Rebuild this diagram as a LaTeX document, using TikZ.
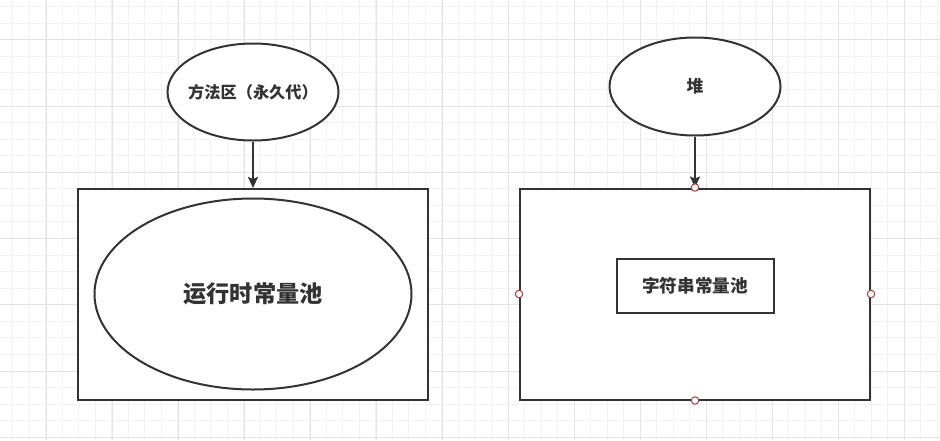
\documentclass[tikz,border=0pt]{standalone}
\usepackage{fontspec}
\newfontfamily\cjk{Noto Sans CJK SC}
\usetikzlibrary{shapes.geometric,arrows.meta}
\definecolor{ink}{HTML}{333333}
\definecolor{gridminor}{HTML}{F2F2F2}
\definecolor{gridmajor}{HTML}{E4E4E4}
\definecolor{pt}{HTML}{A8403F}
\tikzset{
  shapeline/.style={draw=ink, line width=2pt, fill=white, text=ink, font=\cjk\bfseries},
  ell/.style={shapeline, ellipse, inner sep=0pt},
  box/.style={shapeline, rectangle, inner sep=0pt},
  arr/.style={draw=ink, line width=2pt, -{Stealth[length=11pt,width=10pt,inset=2pt]}},
  cpt/.style={circle, draw=pt, line width=1pt, fill=white, minimum size=7.5pt, inner sep=0pt},
  lbl/.style={text=ink, inner sep=0pt},
}
\begin{document}
\begin{tikzpicture}[x=1pt,y=-1pt]
\useasboundingbox (0,0) rectangle (940,440);
\fill[white] (0,0) rectangle (940,440);
% grid
\foreach \i in {0,...,56} {
  \pgfmathsetmacro\gx{12.7+16.51*\i}
  \draw[gridminor, line width=1pt] (\gx,0) -- (\gx,440);
}
\foreach \i in {0,...,26} {
  \pgfmathsetmacro\gy{6.7+16.56*\i}
  \draw[gridminor, line width=1pt] (0,\gy) -- (940,\gy);
}
\foreach \i in {0,...,14} {
  \pgfmathsetmacro\gx{46+66.04*\i-66.04}
  \draw[gridmajor, line width=1pt] (\gx,0) -- (\gx,440);
}
\foreach \i in {0,...,7} {
  \pgfmathsetmacro\gy{39.8+66.24*\i-66.24}
  \draw[gridmajor, line width=1pt] (0,\gy) -- (940,\gy);
}
% left part
\node[ell, minimum width=171pt, minimum height=97pt,
  label={[lbl, font=\cjk\bfseries\fontsize{16.2}{20}\selectfont]center:方法区（永久代）}] (mth) at (253,92) {};
\node[box, minimum width=350pt, minimum height=211pt] (r1) at (253,294.5) {};
\node[ell, minimum width=317pt, minimum height=191pt,
  label={[lbl, font=\cjk\bfseries\fontsize{23.2}{28}\selectfont]center:运行时常量池}] (rcp) at (253,294) {};
\draw[arr] (mth.south) -- (r1.north);
% right part
\node[ell, minimum width=171pt, minimum height=98pt,
  label={[lbl, font=\cjk\bfseries\fontsize{16.8}{20}\selectfont]center:堆}] (heap) at (695,86.5) {};
\node[box, minimum width=350pt, minimum height=211pt] (r2) at (695,294) {};
\node[box, minimum width=157pt, minimum height=54pt, font=\cjk\bfseries\fontsize{17.6}{22}\selectfont] (scp) at (695,286) {字符串常量池};
\draw[arr] (heap.south) -- (r2.north);
\node[cpt] (c1) at (r2.north) {};
\node[cpt] (c2) at (r2.west) {};
\node[cpt] (c3) at (r2.east) {};
\node[cpt] (c4) at (r2.south) {};
\end{tikzpicture}
\end{document}
